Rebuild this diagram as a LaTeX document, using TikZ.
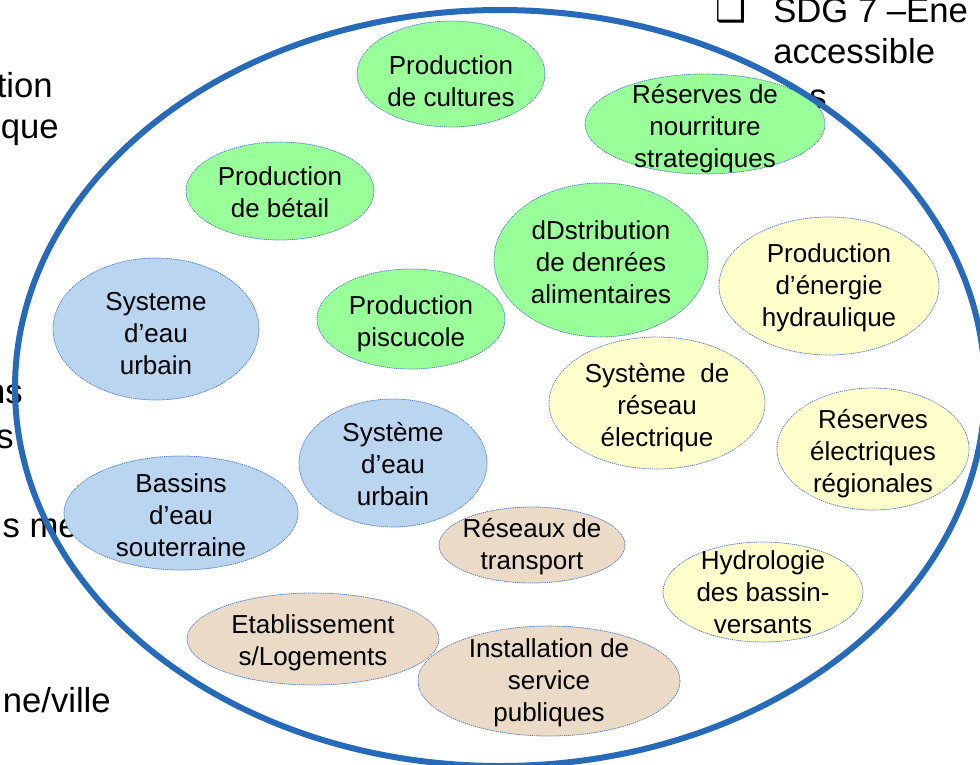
\documentclass[tikz,border=0pt]{standalone}
\usepackage{fontspec}
\setmainfont{Liberation Sans}
\newfontfamily\dejavu{DejaVu Sans}
\definecolor{grandbleu}{RGB}{38,106,185}
\definecolor{bord}{RGB}{80,125,200}
\definecolor{vert}{RGB}{153,255,153}
\definecolor{bleu}{RGB}{185,213,240}
\definecolor{jaune}{RGB}{255,255,204}
\definecolor{beige}{RGB}{234,218,198}
\begin{document}
\begin{tikzpicture}[x=.75pt,y=-.75pt,line join=round,line cap=round,
  bulle/.style={draw=bord,line width=.6pt,densely dotted},
  txt/.style={align=center,inner sep=0pt,font=\fontsize{19.5}{24}\selectfont},
  dn/.style={yshift=-#1*.75pt},
  fond/.style={inner sep=0pt,font=\fontsize{26}{32}\selectfont}]
\useasboundingbox (0,0) rectangle (980,764);
\clip (0,0) rectangle (980,764);
% texte de la diapo derriere le schema
\node[fond,anchor=base east] (t1) at (53,97) {tion};
\node[fond,anchor=base east] (t2) at (59,138) {que};
\node[fond,anchor=base east] (t3) at (23,403) {ns};
\node[fond,anchor=base east] (t4) at (14,448) {s};
\node[fond,anchor=base east] (t5) at (78,537) {s me};
\node[fond,anchor=base east] (t6) at (111,712) {ne/ville};
\node[inner sep=0pt,anchor=base west,font=\dejavu\fontsize{26}{32}\selectfont] (puce) at (715,21) {❑};
\node[fond,anchor=base west] (sdg) at (773,22) {SDG 7 –Ene};
\node[fond,anchor=base west] (acc) at (773,63) {accessible};
\node[fond,anchor=base east] (t7) at (827,108) {es};
% bulles : alimentation
\draw[bulle,fill=vert] (451,74) ellipse [x radius=94,y radius=53] node[txt,dn=7] (cult) {Production\\de cultures};
\draw[bulle,fill=vert] (705,124) ellipse [x radius=120,y radius=50] node[txt,dn=5] (res) {Réserves de\\nourriture\\strategiques};
\draw[bulle,fill=vert] (280,191) ellipse [x radius=94,y radius=49] node[txt,dn=1] (betail) {Production\\de bétail};
\draw[bulle,fill=vert] (601,260) ellipse [x radius=107,y radius=77] node[txt,dn=2] (distr) {dDstribution\\de denrées\\alimentaires};
\draw[bulle,fill=vert] (411,319) ellipse [x radius=94,y radius=50] node[txt,dn=5] (pisc) {Production\\piscucole};
% bulles : eau
\draw[bulle,fill=bleu] (156,329) ellipse [x radius=103,y radius=71] node[txt,dn=5] (eau1) {Systeme\\d’eau\\urbain};
\draw[bulle,fill=bleu] (393,463) ellipse [x radius=94,y radius=64] node[txt,dn=1] (eau2) {Système\\d’eau\\urbain};
\draw[bulle,fill=bleu] (181,513) ellipse [x radius=117,y radius=57] node[txt,dn=2] (bass) {Bassins\\d’eau\\souterraine};
% bulles : energie
\draw[bulle,fill=jaune] (829,286) ellipse [x radius=110,y radius=69] node[txt,dn=2] (hydro) {Production\\d’énergie\\hydraulique};
\draw[bulle,fill=jaune] (657,403) ellipse [x radius=108,y radius=66] node[txt,dn=5] (reseau) {Système~~de\\réseau\\électrique};
\draw[bulle,fill=jaune] (873,449) ellipse [x radius=96,y radius=61] node[txt,dn=5] (elec) {Réserves\\électriques\\régionales};
\draw[bulle,fill=jaune] (763,592) ellipse [x radius=100,y radius=50] node[txt] (hydrol) {Hydrologie\\des bassin-\\versants};
% bulles : infrastructures
\draw[bulle,fill=beige] (532,545) ellipse [x radius=93,y radius=38] node[txt,dn=2] (transp) {Réseaux de\\transport};
\draw[bulle,fill=beige] (313,639) ellipse [x radius=126,y radius=46] node[txt,dn=4] (etab) {Etablissement\\s/Logements};
\draw[bulle,fill=beige] (549,681) ellipse [x radius=131,y radius=55] node[txt,dn=2] (instal) {Installation de\\service\\publiques};
% grand cercle
\draw[grandbleu,line width=4.5pt] (500,388) ellipse [x radius=485,y radius=378];
\end{tikzpicture}
\end{document}
